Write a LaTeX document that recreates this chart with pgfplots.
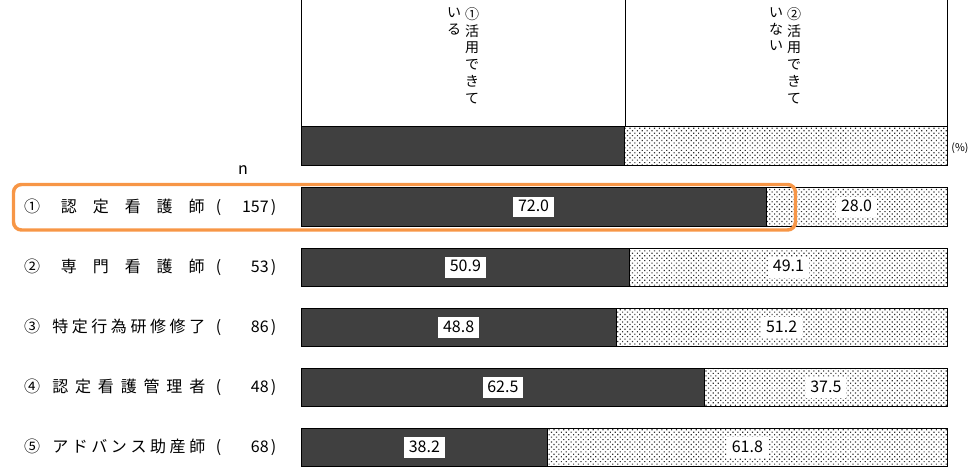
\documentclass[border=0pt]{standalone}
\usepackage{fontspec}
\setmainfont{Noto Sans CJK JP}
\usepackage{pgfplots}
\pgfplotsset{compat=1.18}
\usepackage{pgfplotstable}
\usetikzlibrary{patterns.meta}

\definecolor{darkbar}{HTML}{404040}
\definecolor{hilite}{HTML}{F79646}

% pos = bar centre (px from top), a = 活用できている, b = 活用できていない
\pgfplotstableread{
pos   a    b    la   lb
207.0 72.0 28.0 72.0 28.0
267.3 50.9 49.1 50.9 49.1
327.5 48.8 51.2 48.8 51.2
387.5 62.5 37.5 62.5 37.5
447.5 38.2 61.8 38.2 61.8
}\results

\pgfplotsset{
  chartaxis/.style={
    at={(225.75pt,0pt)}, anchor=north west, scale only axis,
    width=484.5pt, height=351.75pt,
    xmin=0, xmax=100, ymin=0, ymax=469, y dir=reverse,
    hide axis, clip=false,
    xbar stacked, bar width=38.5,
  },
  usedbar/.style={draw=black, line width=0.6pt, fill=darkbar},
  unusedbar/.style={draw=black, line width=0.6pt,
    pattern={Dots[radius=0.62pt, distance=2.6pt, angle=45]}, pattern color=black!80},
  valuelabel/.style={
    nodes near coords={\pgfplotspointmeta}, point meta=explicit symbolic,
    every node near coord/.append style={anchor=center, fill=white,
      inner xsep=3.6pt, inner ysep=3.4pt, text=black,
      text height=0.78em, text depth=0.1em,
      font=\fontsize{12pt}{14pt}\selectfont}},
}

\tikzset{
  lab/.style={inner sep=0pt, font=\fontsize{12pt}{14pt}\selectfont,
    text height=0.88em, text depth=0.12em},
  vtext/.style={anchor=north, align=center, inner sep=0pt,
    font=\fontsize{10.5pt}{12.7pt}\selectfont},
}

% y, circled no., name, name left, name width, n
\newcommand\rowlabel[6]{%
  \node[lab] at (32,#1) {#2};
  \node[lab, anchor=west] at (#4,#1) {\makebox[#5][s]{#3}};
  \node[lab, anchor=west] at (215.5,#1) {(};
  \node[lab, anchor=east] at (269,#1) {#6};
  \node[lab, anchor=west] at (270.5,#1) {)};
}

\begin{document}
\begin{tikzpicture}
\useasboundingbox (0pt,0pt) rectangle (733.5pt,-351.75pt);

% legend row
\begin{axis}[chartaxis]
  \addplot[usedbar] coordinates {(50,146)};
  \addplot[unusedbar] coordinates {(50,146)};
\end{axis}

% stacked bars; nodes near coords sit mid-segment here
\begin{axis}[chartaxis]
  \addplot[usedbar, valuelabel] table[x=a, y=pos, meta=la] {\results};
  \addplot[unusedbar, valuelabel] table[x=b, y=pos, meta=lb] {\results};
\end{axis}

\begin{scope}[x=0.75pt, y=-0.75pt]
\draw[line width=0.6pt] (301,0)--(301,127) (625,0)--(625,127) (947,0)--(947,127);

\node[vtext] at (472,7) {①\\活\\用\\で\\き\\て};
\node[vtext] at (454,7) {い\\る};
\node[vtext] at (794,7) {②\\活\\用\\で\\き\\て};
\node[vtext] at (776,7) {い\\な\\い};

\node[inner sep=0pt, font=\fontsize{8pt}{9pt}\selectfont] at (960,148) {(\%)};
\node[inner sep=0pt, font=\fontsize{12pt}{14pt}\selectfont] at (243,170) {n};

\rowlabel{207.0}{①}{認\hfill 定\hfill 看\hfill 護\hfill 師}{60.7}{107.7pt}{157}
\rowlabel{267.3}{②}{専\hfill 門\hfill 看\hfill 護\hfill 師}{60.7}{107.7pt}{53}
\rowlabel{327.5}{③}{特\hfill 定\hfill 行\hfill 為\hfill 研\hfill 修\hfill 修\hfill 了}{52}{114.75pt}{86}
\rowlabel{387.5}{④}{認\hfill 定\hfill 看\hfill 護\hfill 管\hfill 理\hfill 者}{52}{114.75pt}{48}
\rowlabel{447.5}{⑤}{ア\hfill ド\hfill バ\hfill ン\hfill ス\hfill 助\hfill 産\hfill 師}{52}{114.75pt}{68}

\draw[hilite, line width=2.6pt, rounded corners=6pt] (13.5,184.5) rectangle (795.5,230);
\end{scope}
\end{tikzpicture}
\end{document}
